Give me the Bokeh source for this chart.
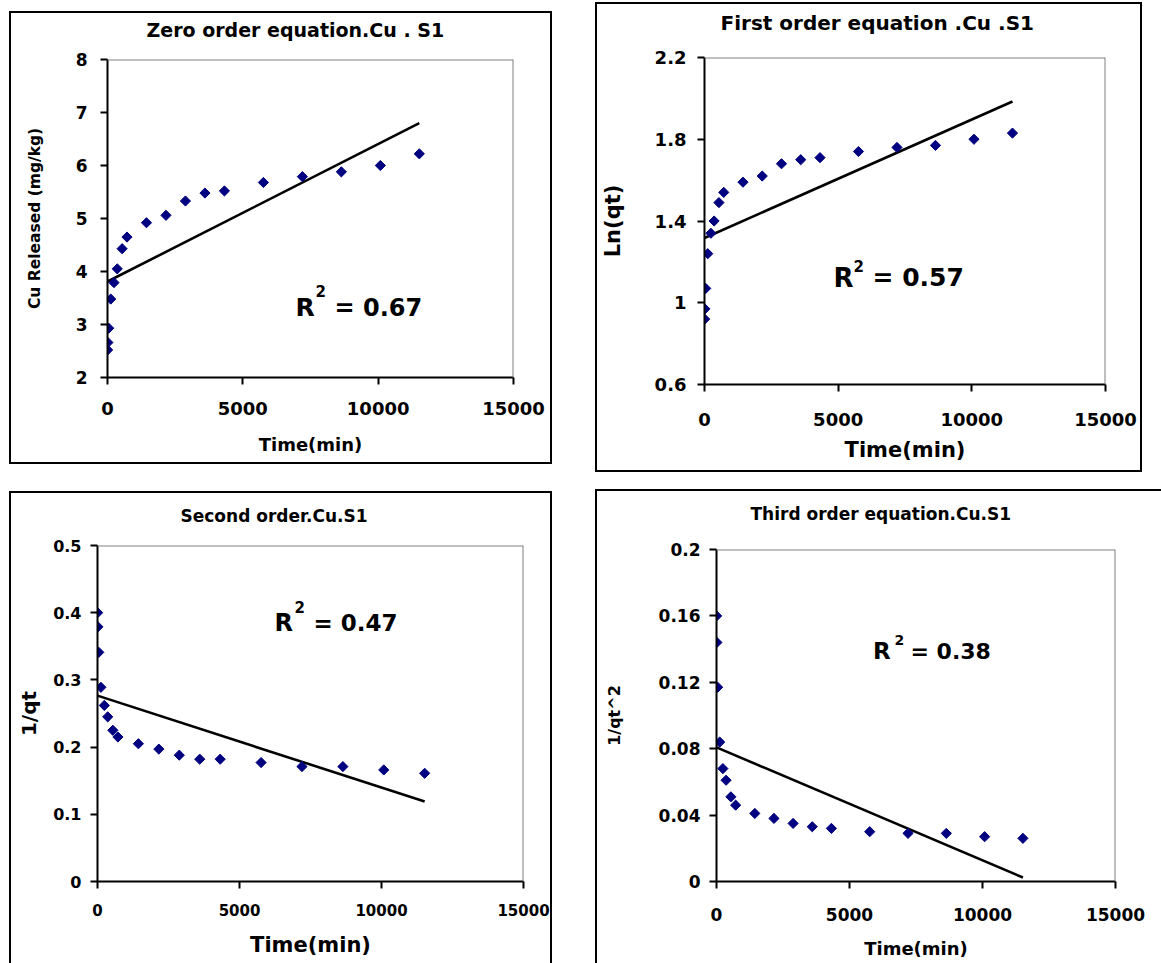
import math
from bokeh.plotting import figure
from bokeh.models import (Range1d, FixedTicker, NumeralTickFormatter, Label,
                          Span, Spacer, Title)
from bokeh.layouts import column, row
from bokeh.embed import file_html
from bokeh.resources import INLINE

# ---------------- data ----------------
time_min = [5, 15, 45, 120, 240, 360, 540, 720, 1440, 2160, 2880, 3600,
            4320, 5760, 7200, 8640, 10080, 11520]

zero_qt = [2.52, 2.66, 2.93, 3.48, 3.79, 4.05, 4.43, 4.65, 4.92, 5.06,
           5.33, 5.48, 5.52, 5.68, 5.79, 5.88, 6.00, 6.22]
first_ln_qt = [0.92, 0.97, 1.07, 1.24, 1.34, 1.40, 1.49, 1.54, 1.59, 1.62,
               1.68, 1.70, 1.71, 1.74, 1.76, 1.77, 1.80, 1.83]
second_inv_qt = [0.400, 0.379, 0.341, 0.289, 0.262, 0.245, 0.225, 0.215,
                 0.205, 0.197, 0.188, 0.182, 0.182, 0.177, 0.171, 0.171,
                 0.166, 0.161]
third_inv_qt2 = [0.160, 0.144, 0.117, 0.084, 0.068, 0.061, 0.051, 0.046,
                 0.041, 0.038, 0.035, 0.033, 0.032, 0.030, 0.029, 0.029,
                 0.027, 0.026]

trend_x = [0, 11520]
zero_trend = [3.81, 6.80]
first_trend = [1.317, 1.985]
second_trend = [0.2766, 0.119]
third_trend = [0.0808, 0.0024]

x_ticks = [0, 5000, 10000, 15000]
zero_yticks = [2, 3, 4, 5, 6, 7, 8]
first_yticks = [0.6, 1.0, 1.4, 1.8, 2.2]
second_yticks = [0, 0.1, 0.2, 0.3, 0.4, 0.5]
third_yticks = [0, 0.04, 0.08, 0.12, 0.16, 0.2]

titles = ["Zero order equation.Cu . S1", "First order equation .Cu .S1",
          "Second order.Cu.S1", "Third order equation.Cu.S1"]
y_labels = ["Cu Released (mg/kg)", "Ln(qt)", "1/qt", "1/qt^2"]
x_label = "Time(min)"
r2_values = ["0.67", "0.57", "0.47", "0.38"]

# ---------------- styling / layout ----------------
FONT = "DejaVu Sans"
NAVY = "#000080"

# origin = absolute top-left of the figure canvas (inside the black box)
# title = (font size, gap between title box and plot area, title left x)
panels = [
    dict(origin=(11, 13), size=(539, 449), frame=(107, 513, 59, 377), yr=(2, 8),
         yticks=zero_yticks, y=zero_qt, trend=zero_trend,
         ysize=17, xsize=18, ystand=13, xstand=17,
         title=(19, 17.5, 146), ylab=(15.5, 29), xlab=(18, 16),
         r2=(295, 307, 25, 315, 290.5, 15, 334, 24)),
    dict(origin=(597, 4), size=(543, 466), frame=(703, 1105, 57, 384), yr=(0.6, 2.2),
         yticks=first_yticks, y=first_ln_qt, trend=first_trend,
         ysize=18, xsize=18, ystand=11, xstand=21,
         title=(20, 20.7, 719), ylab=(21, 27), xlab=(21, 9),
         r2=(833, 277, 26, 853, 265.5, 15, 872, 25)),
    dict(origin=(11, 493), size=(539, 470), frame=(97, 523, 545, 881), yr=(0, 0.5),
         yticks=second_yticks, y=second_inv_qt, trend=second_trend,
         ysize=16, xsize=15, ystand=9, xstand=15,
         title=(17, 18.4, 180), ylab=(20, 9), xlab=(21, 14),
         r2=(274, 622.5, 24, 294, 606, 15, 313, 23)),
    dict(origin=(597, 491), size=(564, 472), frame=(716, 1115, 549, 881), yr=(0, 0.2),
         yticks=third_yticks, y=third_inv_qt2, trend=third_trend,
         ysize=17, xsize=17, ystand=9, xstand=19,
         title=(17, 24.4, 750), ylab=(16, 32), xlab=(18, 14),
         r2=(872.5, 650.5, 23, 894, 639, 14, 910, 22)),
]


def style_axis(ax, ticks, size, standoff):
    ax.ticker = FixedTicker(ticks=ticks, minor_ticks=[])
    ax.formatter = NumeralTickFormatter(format="0.[00]")
    ax.axis_line_color = "black"
    ax.axis_line_width = 2
    ax.major_tick_line_color = "black"
    ax.major_tick_line_width = 2
    ax.major_tick_out = 7
    ax.major_tick_in = 0
    ax.minor_tick_line_color = None
    ax.major_label_text_font = FONT
    ax.major_label_text_font_style = "bold"
    ax.major_label_text_font_size = f"{size}px"
    ax.major_label_text_color = "black"
    ax.major_label_standoff = standoff


def style_axis_label(ax, text, size, standoff):
    ax.axis_label = text
    ax.axis_label_text_font = FONT
    ax.axis_label_text_font_style = "bold"
    ax.axis_label_text_font_size = f"{size}px"
    ax.axis_label_text_color = "black"
    ax.axis_label_standoff = standoff


def make_panel(i, c):
    ox, oy = c["origin"]
    w, h = c["size"]
    l, r, t, b = c["frame"]
    p = figure(width=w, height=h, output_backend="svg",
               toolbar_location=None, title=None,
               x_range=Range1d(0, 15000), y_range=Range1d(*c["yr"]),
               min_border_left=l - ox, min_border_right=w - (r - ox),
               min_border_top=t - oy, min_border_bottom=h - (b - oy))
    p.xgrid.visible = False
    p.ygrid.visible = False
    p.outline_line_color = None
    p.background_fill_color = "white"
    p.border_fill_color = "white"
    style_axis(p.xaxis[0], x_ticks, c["xsize"], c["xstand"])
    style_axis(p.yaxis[0], c["yticks"], c["ysize"], c["ystand"])
    style_axis_label(p.xaxis[0], x_label, *c["xlab"])
    style_axis_label(p.yaxis[0], y_labels[i], *c["ylab"])

    ts, gap, tleft = c["title"]
    # blank spacer title next to the plot area, real title stacked above it
    p.add_layout(Title(text=" ", text_font_size="1px", standoff=max(gap - 1.2, 0),
                       text_color="white"), "above")
    p.add_layout(Title(text=titles[i], align="left", vertical_align="bottom",
                       offset=tleft - l, standoff=0, text_font=FONT,
                       text_font_style="bold", text_font_size=f"{ts}px",
                       text_color="black"), "above")

    # grey top and right edges of the plot area
    p.add_layout(Span(location=c["yr"][1], dimension="width",
                      line_color="#808080", line_width=2))
    p.add_layout(Span(location=15000, dimension="height",
                      line_color="#808080", line_width=2))

    p.line(trend_x, c["trend"], line_color="black", line_width=2.6)
    p.scatter(time_min, c["y"], marker="square", angle=math.pi / 4, size=7.2,
              fill_color=NAVY, line_color=NAVY, line_width=1)

    rx, ry, rs, sx, sy, ss, ex, es = c["r2"]
    for (x, y, s, size) in [(rx, ry, "R", rs), (sx, sy, "2", ss),
                            (ex, ry, "= " + r2_values[i], es)]:
        p.add_layout(Label(x=x - ox, y=y - oy, x_units="canvas", y_units="canvas",
                           text=s, text_font=FONT, text_font_style="bold",
                           text_font_size=f"{size}px", text_align="left",
                           text_baseline="alphabetic", text_color="black"))
    return p


def bar(w, h):
    return Spacer(width=w, height=h, styles={"background-color": "black"})


figs = [make_panel(i, c) for i, c in enumerate(panels)]

box1 = column(bar(543, 2), row(bar(2, 449), figs[0], bar(2, 449)), bar(543, 2))
box2 = column(bar(547, 2), row(bar(2, 466), figs[1], bar(2, 466)), bar(547, 2))
box3 = column(bar(543, 2), row(bar(2, 470), figs[2], bar(2, 470)))
box4 = column(bar(566, 2), row(bar(2, 472), figs[3]))

top_row = row(Spacer(width=9, height=10), column(Spacer(width=10, height=11), box1),
              Spacer(width=43, height=10), column(Spacer(width=10, height=2), box2))
bottom_row = row(Spacer(width=9, height=10), column(Spacer(width=10, height=19), box3),
                 Spacer(width=43, height=10), column(Spacer(width=10, height=17), box4))
layout = column(top_row, bottom_row)

with open("out.html", "w") as f:
    f.write(file_html(layout, INLINE))
